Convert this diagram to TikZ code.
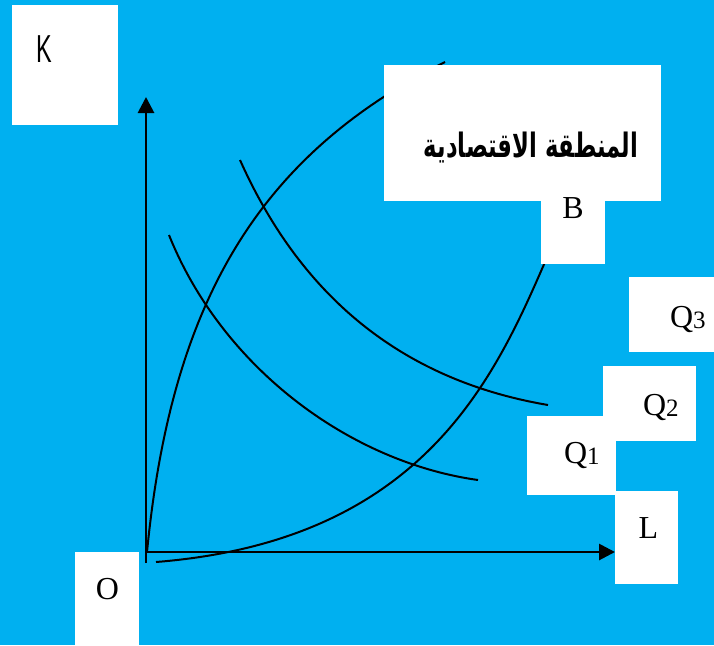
\documentclass[tikz,border=0pt]{standalone}
\usepackage{fontspec}
\setmainfont{Liberation Serif}
\newfontfamily\sansK{Liberation Sans}
\newfontfamily\arabicfont[Script=Arabic]{DejaVu Sans}
\TeXXeTstate=1
\usetikzlibrary{arrows.meta}
\definecolor{bg}{HTML}{00B0F0}
\newcommand{\sub}[1]{\raisebox{-1pt}{\fontsize{25}{25}\selectfont #1}}
\begin{document}
\begin{tikzpicture}[x=1pt,y=-1pt,
  whitebox/.style={fill=white, draw=none, inner sep=0pt, outer sep=0pt},
  lbl/.style={inner sep=0pt, outer sep=0pt, font=\fontsize{32}{32}\selectfont},
  axis/.style={line width=2.8pt, -{Triangle[width=16pt,length=16pt]}},
  curve/.style={line width=2pt}]
\useasboundingbox (0,0) rectangle (714,645);
\fill[bg] (0,0) rectangle (714,645);
% coordinates
\coordinate (vbot) at (146,563);
\coordinate (vtop) at (146,97);
\coordinate (hleft) at (146,552);
\coordinate (hright) at (615,552);
\coordinate (r1a) at (147,552);
\coordinate (r1b) at (445,62);
\coordinate (r2a) at (156,562);
\coordinate (r2b) at (545,262);
\coordinate (q1a) at (169,235);
\coordinate (q1b) at (478,480);
\coordinate (q2a) at (240,160);
\coordinate (q2b) at (548,405);
% curves
\draw[curve] (r1a) .. controls (171,305.5) and (256,156.5) .. (r1b);
\draw[curve] (r2a) .. controls (420,541) and (493,382) .. (r2b);
\draw[curve] (q1a) .. controls (222,367) and (349,462) .. (q1b);
\draw[curve] (q2a) .. controls (295,283) and (389,378) .. (q2b);
% axes
\draw[axis] (vbot) -- (vtop);
\draw[axis] (hleft) -- (hright);
% white boxes
\node[whitebox, minimum width=106pt, minimum height=120pt] (Kbox) at (65,65) {};
\node[whitebox, minimum width=277pt, minimum height=136pt] (Abox) at (522.5,133) {};
\node[whitebox, minimum width=64pt, minimum height=63pt] (Bbox) at (573,232.5) {};
\node[whitebox, minimum width=85pt, minimum height=75pt] (Q3box) at (671.5,314.5) {};
\node[whitebox, minimum width=93pt, minimum height=75pt] (Q2box) at (649.5,403.5) {};
\node[whitebox, minimum width=89pt, minimum height=79pt] (Q1box) at (571.5,455.5) {};
\node[whitebox, minimum width=63pt, minimum height=93pt] (Lbox) at (646.5,537.5) {};
\node[whitebox, minimum width=64pt, minimum height=93pt] (Obox) at (107,598.5) {};
% texts
\node[inner sep=0pt, anchor=base] (Ktxt) at (44,62) {\sansK\fontsize{39}{39}\selectfont\scalebox{0.6}[1]{K}};
\node[inner sep=0pt] (Atxt) at (531,148) {\scalebox{0.81}[1.2]{\arabicfont\bfseries\fontsize{28}{28}\selectfont\beginR المنطقة الاقتصادية\endR}};
\node[lbl, anchor=base] (Btxt) at (573,218) {B};
\node[lbl, anchor=base west] (Q3txt) at (670,327) {Q\sub{3}};
\node[lbl, anchor=base west] (Q2txt) at (643,415) {Q\sub{2}};
\node[lbl, anchor=base west] (Q1txt) at (564,463) {Q\sub{1}};
\node[lbl, anchor=base] (Ltxt) at (648.5,538) {L};
\node[lbl, anchor=base] (Otxt) at (107.5,599) {O};
\end{tikzpicture}
\end{document}
